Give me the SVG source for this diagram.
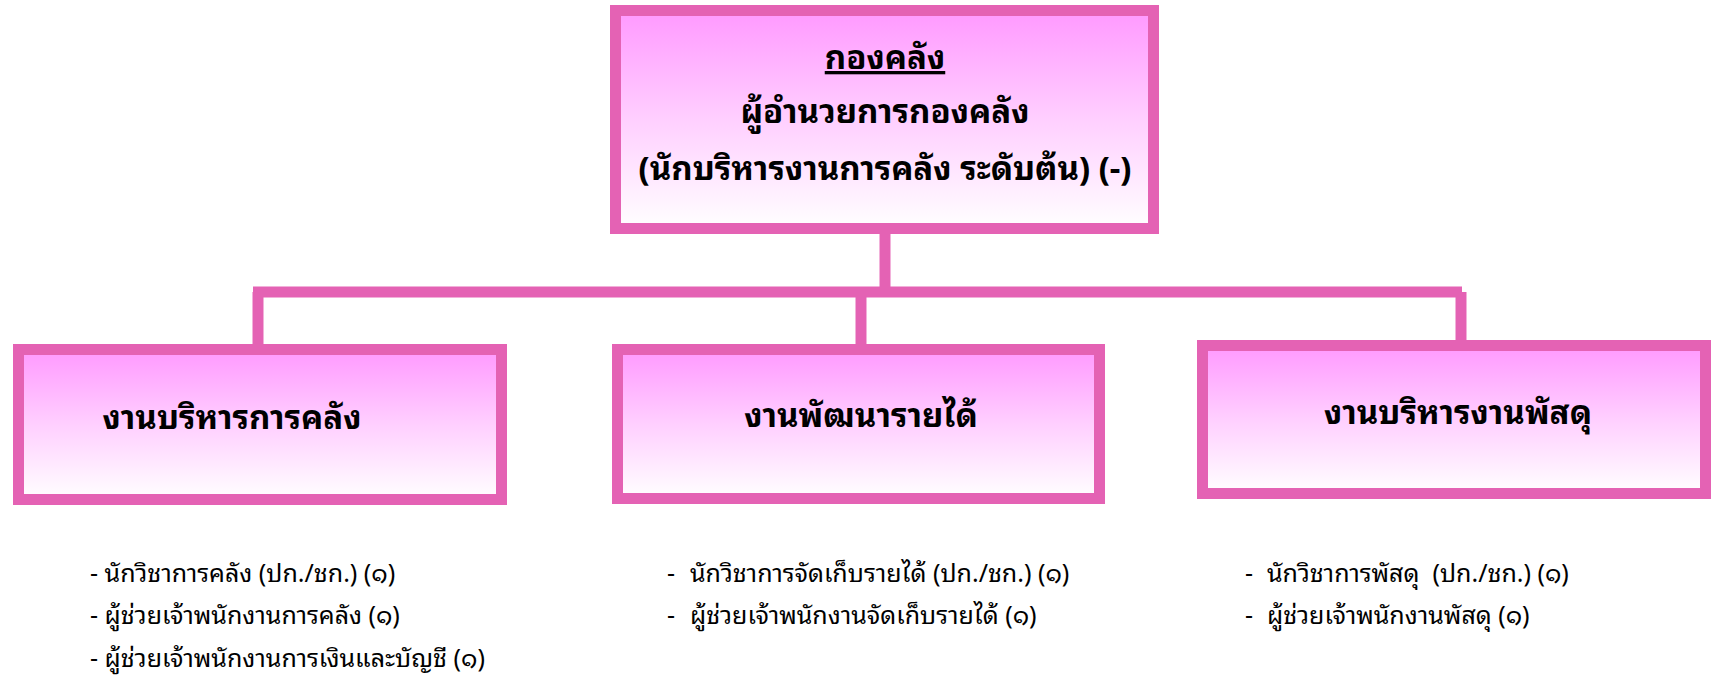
<svg xmlns="http://www.w3.org/2000/svg" width="1713" height="676" viewBox="0 0 1713 676">
<defs>
<linearGradient id="g" x1="0" y1="0" x2="0" y2="1">
<stop offset="0" stop-color="#ff99ff"/>
<stop offset="0.5" stop-color="#ffcfff"/>
<stop offset="1" stop-color="#ffffff"/>
</linearGradient>
<style>
.box{fill:url(#g);stroke:#e462b4;stroke-width:11}
.ln{fill:none;stroke:#e462b4;stroke-width:11}
.t{font-family:"Noto Sans Thai Looped","Tahoma","Loma","Garuda","Noto Sans Thai","Noto Sans",sans-serif;fill:#000}
.h{font-size:33px;font-weight:bold;text-anchor:middle}
.l{font-size:25px}
</style>
</defs>
<rect width="1713" height="676" fill="#fff"/>
<g id="connectors">
<path class="ln" d="M885 234V292"/>
<path class="ln" d="M253 292H1462"/>
<path class="ln" d="M258 292V344"/>
<path class="ln" d="M861 292V344"/>
<path class="ln" d="M1461 292V340"/>
</g>
<g id="top">
<rect class="box" x="615.5" y="10.5" width="538" height="218"/>
<text class="t h" x="885" y="69" text-decoration="underline">กองคลัง</text>
<text class="t h" x="885" y="123">ผู้อำนวยการกองคลัง</text>
<text class="t h" x="885" y="180">(นักบริหารงานการคลัง ระดับต้น) (-)</text>
</g>
<g id="n1">
<rect class="box" x="18.5" y="349.5" width="483" height="150"/>
<text class="t h" x="232" y="429">งานบริหารการคลัง</text>
</g>
<g id="n2">
<rect class="box" x="617.5" y="349.5" width="482" height="149"/>
<text class="t h" x="861" y="427">งานพัฒนารายได้</text>
</g>
<g id="n3">
<rect class="box" x="1202.5" y="345.5" width="503" height="148"/>
<text class="t h" x="1458" y="424">งานบริหารงานพัสดุ</text>
</g>
<g id="list1">
<text class="t l" x="90" y="582">- นักวิชาการคลัง (ปก./ชก.) (๑)</text>
<text class="t l" x="90" y="624">- ผู้ช่วยเจ้าพนักงานการคลัง (๑)</text>
<text class="t l" x="90" y="667">- ผู้ช่วยเจ้าพนักงานการเงินและบัญชี (๑)</text>
</g>
<g id="list2">
<text class="t l" x="667" y="582">-</text>
<text class="t l" x="690" y="582">นักวิชาการจัดเก็บรายได้ (ปก./ชก.) (๑)</text>
<text class="t l" x="667" y="624">-</text>
<text class="t l" x="690" y="624">ผู้ช่วยเจ้าพนักงานจัดเก็บรายได้ (๑)</text>
</g>
<g id="list3">
<text class="t l" x="1245" y="582">-</text>
<text class="t l" x="1267" y="582">นักวิชาการพัสดุ&#160; (ปก./ชก.) (๑)</text>
<text class="t l" x="1245" y="624">-</text>
<text class="t l" x="1267" y="624">ผู้ช่วยเจ้าพนักงานพัสดุ (๑)</text>
</g>
</svg>
